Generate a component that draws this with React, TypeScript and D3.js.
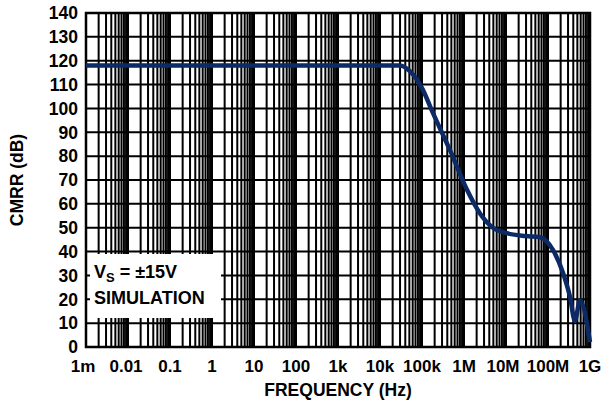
import React from "react";
import { scaleLog, scaleLinear, line, curveMonotoneX, range } from "d3";

// CMRR vs frequency
const freqs = [1e-3, 1, 1e3, 1e4, 3e4, 5.2e4, 7.6e4, 1.0e5, 1.83e5, 4.64e5, 1.17e6, 2.4e6, 4.9e6, 1.05e7, 3e7, 6.4e7, 1.32e8, 2.28e8, 3.34e8, 4.37e8, 5.77e8, 1e9];
const cmrr = [118, 118, 118, 118, 118, 115.5, 112, 108.5, 98, 82.5, 66, 56, 50, 47.7, 46.5, 46, 40.6, 31, 21, 11, 19.5, 2];

const xTickValues = [1e-3, 1e-2, 1e-1, 1, 10, 100, 1e3, 1e4, 1e5, 1e6, 1e7, 1e8, 1e9];
const xTickLabels = ["1m", "0.01", "0.1", "1", "10", "100", "1k", "10k", "100k", "1M", "10M", "100M", "1G"];
const xTickNudge = [-3, -2, 0, 0, 0, 0, 0, 0, 0, 0, -3, 0, 0];
const yTicks = range(0, 141, 10);

const width = 602;
const height = 407;
const margin = { top: 13, right: 12, bottom: 60, left: 86 };
const font = "'Liberation Sans', Arial, sans-serif";

const App = () => {
  const x = scaleLog().domain([1e-3, 1e9]).range([margin.left, width - margin.right]);
  const y = scaleLinear().domain([0, 140]).range([height - margin.bottom, margin.top]);

  // minor grid: 1..9 for each decade
  const gridX: number[] = [];
  for (let e = -3; e < 9; e++) {
    for (let m = 1; m < 10; m++) gridX.push(m * Math.pow(10, e));
  }
  gridX.push(1e9);

  const path = line<number>()
    .x((_, i) => x(freqs[i]))
    .y((d) => y(d))
    .curve(curveMonotoneX)(cmrr);

  const x0 = x.range()[0];
  const x1 = x.range()[1];
  const yTop = y(140);
  const yBot = y(0);

  return (
    <svg width={width} height={height} style={{ position: "absolute", left: 0, top: 0, background: "#fff" }}>
      {gridX.map((f, i) => (
        <line key={"vx" + i} x1={x(f)} x2={x(f)} y1={yTop} y2={yBot} stroke="#000" strokeWidth={2} />
      ))}
      {yTicks.map((t) => (
        <line key={"hy" + t} x1={x0} x2={x1} y1={y(t)} y2={y(t)} stroke="#000" strokeWidth={2} />
      ))}
      <rect x={x0} y={yTop} width={x1 - x0} height={yBot - yTop} fill="none" stroke="#000" strokeWidth={2.5} />

      {/* annotation box */}
      <rect x={90} y={254} width={131} height={64} fill="#fff" />
      <text x={94} y={278} fontFamily={font} fontWeight="bold" fontSize={18}>
        V<tspan fontSize={13} dy={4}>S</tspan>
        <tspan dy={-4}> = ±15V</tspan>
      </text>
      <text x={94} y={304} fontFamily={font} fontWeight="bold" fontSize={18}>SIMULATION</text>

      <path d={path || ""} fill="none" stroke="#0b2a66" strokeWidth={4.5} strokeLinejoin="round" />

      {yTicks.map((t) => (
        <text key={"yl" + t} x={x0 - 8} y={y(t)} dy="0.36em" textAnchor="end" fontFamily={font} fontWeight="bold" fontSize={17.5}>
          {t}
        </text>
      ))}
      {xTickValues.map((v, i) => (
        <text key={"xl" + i} x={x(v)} y={372} dx={xTickNudge[i]} textAnchor="middle" fontFamily={font} fontWeight="bold" fontSize={17}>
          {xTickLabels[i]}
        </text>
      ))}
      <text x={(x0 + x1) / 2} y={396} textAnchor="middle" fontFamily={font} fontWeight="bold" fontSize={17.5}>
        FREQUENCY (Hz)
      </text>
      <text transform={`translate(23, ${(yTop + yBot) / 2}) rotate(-90)`} textAnchor="middle" fontFamily={font} fontWeight="bold" fontSize={17.5}>
        CMRR (dB)
      </text>
    </svg>
  );
};

export default App;
